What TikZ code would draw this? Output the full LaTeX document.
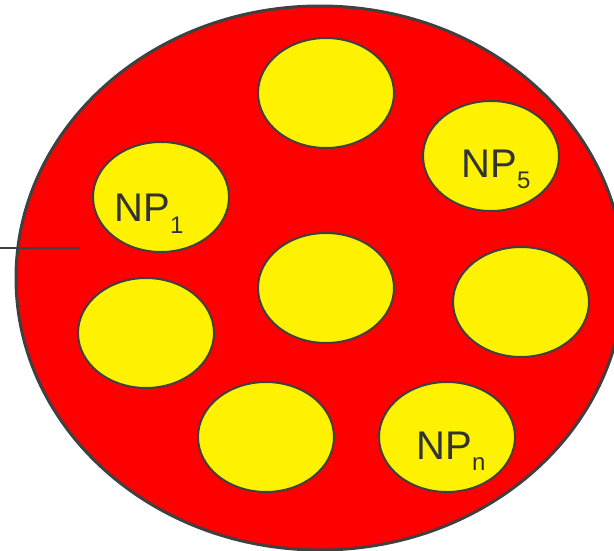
\documentclass[tikz,border=0pt]{standalone}
\usepackage{fontspec}
\setmainfont{Liberation Sans}
\usetikzlibrary{shapes.geometric}
\definecolor{edge}{HTML}{404040}
\definecolor{txt}{HTML}{333333}
\newcommand{\npsub}[1]{NP\raisebox{-11pt}{\fontsize{24}{24}\selectfont #1}}
\begin{document}
\begin{tikzpicture}[x=1pt,y=-1pt,line join=round]
    \tikzset{cell/.style={ellipse,draw=edge,line width=3pt,fill=red,
            minimum width=608pt,minimum height=544pt,inner sep=0pt},
        np/.style={ellipse,draw=edge,line width=2pt,fill=yellow,
            minimum width=136pt,minimum height=110pt,inner sep=0pt},
        lbl/.style={text=txt,font=\fontsize{40}{40}\selectfont,inner sep=0pt,anchor=base}
    }
    \useasboundingbox (0,0) rectangle (614,551);
    \clip (0,0) rectangle (614,551);
    \node[cell] (body) at (320,278) {};
    \coordinate (tail) at (0,248);
    \coordinate (tip) at (80,248);
    \draw[edge,line width=1.5pt] (tail) -- (tip);
    \node[np] (top) at (326,93) {};
    \node[np] (np5) at (491,156) {};
    \node[np] (np1) at (161,197) {};
    \node[np] (mid) at (326,288) {};
    \node[np] (right) at (521,302) {};
    \node[np] (left) at (146,333) {};
    \node[np] (low) at (266,437) {};
    \node[np] (npn) at (447,437) {};
    \node[lbl] (l1) at ([shift={(-12,25)}]np1) {\npsub{1}};
    \node[lbl] (l5) at ([shift={(5,22)}]np5) {\npsub{5}};
    \node[lbl] (ln) at ([shift={(4,22)}]npn) {\npsub{n}};
\end{tikzpicture}
\end{document}
